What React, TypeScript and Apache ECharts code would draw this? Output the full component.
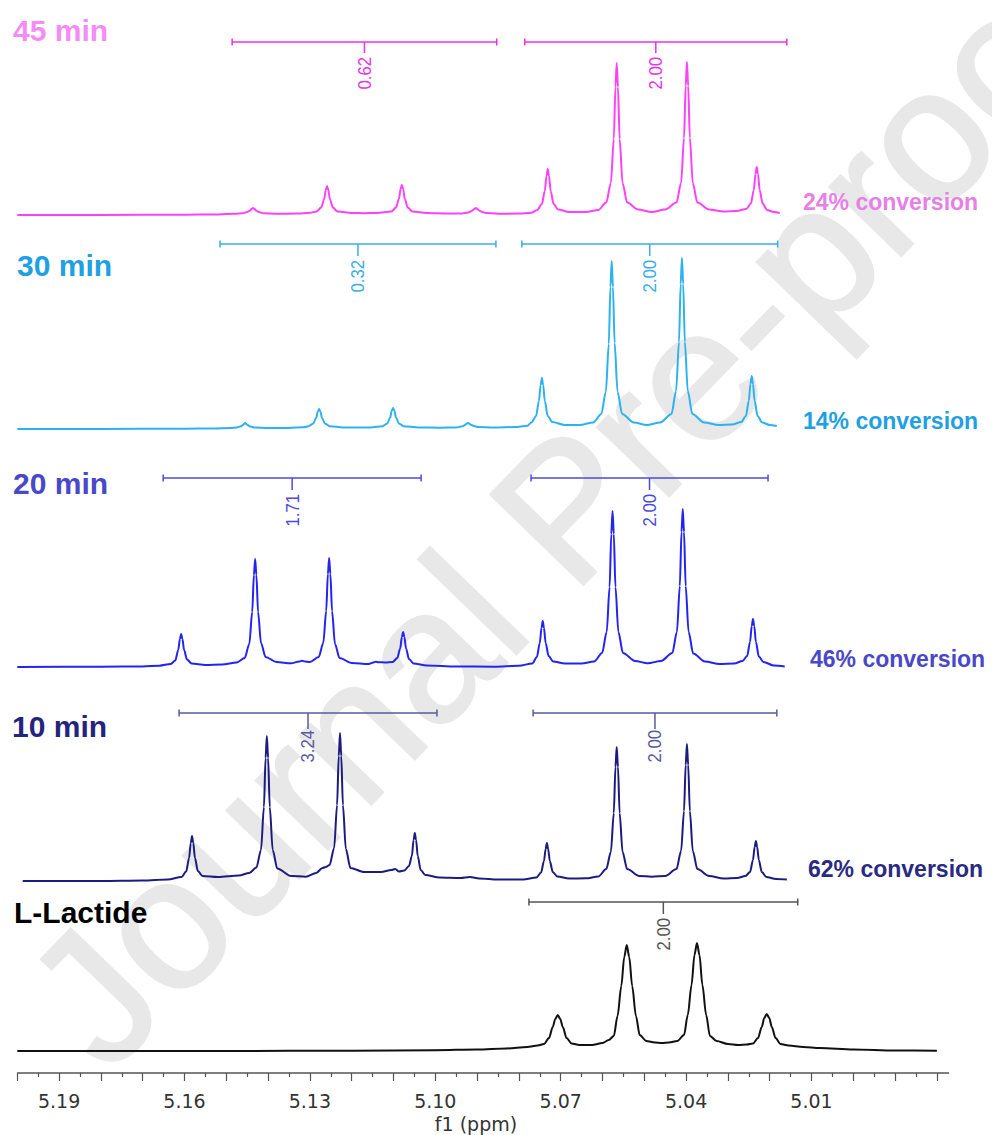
import React, { useEffect, useRef } from 'react';
import * as echarts from 'echarts';

// x axis tick labels (ppm)
const tickLabels = ['5.19', '5.16', '5.13', '5.10', '5.07', '5.04', '5.01'];

// Spectra: [ppm, intensity (a.u.)]
const S45: number[][] = [
  [5.2, 0], [5.18, 0], [5.16, 0.3], [5.152, 0.6], [5.148, 1.2],
  [5.1461, 1.8], [5.145, 3], [5.1443, 4.5], [5.1439, 6.2], [5.1436, 7], [5.1433, 6.2], [5.1429, 4.5], [5.1422, 3], [5.1411, 1.8],
  [5.138, 1.2], [5.133, 1.4], [5.13, 2.2],
  [5.1284, 3.5], [5.1273, 7.5], [5.1266, 15.5], [5.1262, 25], [5.1259, 29], [5.1256, 25], [5.1252, 15.5], [5.1245, 7.5], [5.1234, 3.5],
  [5.12, 2], [5.117, 1.8], [5.114, 2], [5.1105, 3.5],
  [5.1094, 7.5], [5.1087, 16], [5.1083, 26], [5.108, 30], [5.1077, 26], [5.1073, 16], [5.1066, 7.5], [5.1055, 3.5],
  [5.102, 2], [5.097, 1.5], [5.0935, 1.6],
  [5.0925, 2.2], [5.0917, 3.2], [5.091, 4.8], [5.0906, 6.3], [5.0903, 7], [5.09, 6.3], [5.0896, 4.8], [5.0889, 3.2], [5.0879, 2],
  [5.085, 1.3], [5.08, 1.4], [5.077, 2.2],
  [5.0756, 5], [5.0745, 11], [5.0738, 24], [5.0734, 39], [5.0731, 46], [5.0728, 39], [5.0724, 24], [5.0717, 11], [5.0706, 5.5],
  [5.068, 3], [5.064, 3], [5.061, 5],
  [5.0591, 12.5], [5.058, 32], [5.0573, 76], [5.0569, 128], [5.0566, 152], [5.0563, 128], [5.0559, 76], [5.0552, 32], [5.0541, 12.5],
  [5.0515, 5.5], [5.0482, 3], [5.045, 5.5],
  [5.0423, 12.5], [5.0412, 32], [5.0405, 77], [5.0401, 129], [5.0398, 153], [5.0395, 129], [5.0391, 77], [5.0384, 32], [5.0373, 12.5],
  [5.0345, 5.5], [5.031, 3.5], [5.028, 4],
  [5.0256, 6], [5.0245, 11.5], [5.0238, 25], [5.0234, 41], [5.0231, 48], [5.0228, 41], [5.0224, 25], [5.0217, 11.5], [5.0206, 5],
  [5.019, 3], [5.0176, 2],
];

const S30: number[][] = [
  [5.2, 0], [5.18, 0], [5.16, 0.3], [5.153, 0.6], [5.149, 1],
  [5.1475, 1.6], [5.1466, 2.6], [5.146, 4], [5.1457, 5.3], [5.1455, 6], [5.1453, 5.3], [5.1449, 4], [5.1443, 2.6], [5.1432, 1.5],
  [5.14, 1], [5.135, 1.1], [5.1315, 1.8],
  [5.1303, 2.8], [5.1292, 5.5], [5.1285, 11], [5.1281, 17.5], [5.1278, 20], [5.1275, 17.5], [5.1271, 11], [5.1264, 5.5], [5.1253, 2.8],
  [5.122, 1.6], [5.119, 1.4], [5.1155, 1.6], [5.1126, 2.8],
  [5.1115, 5.5], [5.1108, 11.5], [5.1104, 18.5], [5.1101, 21], [5.1098, 18.5], [5.1094, 11.5], [5.1087, 5.5], [5.1076, 2.8],
  [5.104, 1.5], [5.099, 1.3], [5.095, 1.5],
  [5.094, 2.2], [5.0933, 3], [5.0928, 4.3], [5.0925, 5.4], [5.0922, 6], [5.0919, 5.4], [5.0915, 4.3], [5.0908, 3], [5.0898, 2],
  [5.086, 1.5], [5.081, 2], [5.078, 3.2],
  [5.077, 6.5], [5.0759, 13], [5.0752, 28], [5.0748, 44], [5.0745, 51], [5.0742, 44], [5.0738, 28], [5.0731, 13], [5.072, 7],
  [5.069, 4], [5.0655, 4], [5.0622, 6.5],
  [5.0603, 15], [5.0592, 37], [5.0585, 85], [5.0581, 142], [5.0578, 168], [5.0575, 142], [5.0571, 86], [5.0564, 37], [5.0553, 15],
  [5.0525, 6.5], [5.0494, 4], [5.0462, 6.5],
  [5.0435, 15], [5.0424, 38], [5.0417, 87], [5.0413, 145], [5.041, 171], [5.0407, 145], [5.0403, 87], [5.0396, 38], [5.0385, 15],
  [5.0357, 6.5], [5.0322, 4], [5.029, 4.5],
  [5.0268, 7], [5.0257, 13], [5.025, 28], [5.0246, 45], [5.0243, 53], [5.024, 45], [5.0236, 28], [5.0229, 13], [5.0218, 6.5],
  [5.02, 4], [5.0183, 3],
];

const S20: number[][] = [
  [5.2, 0], [5.18, 0.2], [5.17, 0.6], [5.166, 1.3], [5.1633, 3],
  [5.1622, 6.5], [5.1615, 17], [5.1611, 28], [5.1608, 33], [5.1605, 28], [5.1601, 17], [5.1594, 7.5], [5.1583, 3.5],
  [5.155, 2], [5.151, 2.5], [5.1475, 4.5], [5.1456, 9],
  [5.1445, 23], [5.1438, 55], [5.1434, 92], [5.1431, 108], [5.1428, 92], [5.1424, 55], [5.1417, 24], [5.1406, 10],
  [5.138, 5], [5.1345, 3.7], [5.1325, 5.5], [5.1319, 6.3], [5.1312, 5.5], [5.13, 5], [5.1279, 10],
  [5.1268, 24], [5.1261, 56], [5.1257, 93], [5.1254, 109], [5.1251, 93], [5.1247, 56], [5.124, 23], [5.1229, 9],
  [5.12, 4], [5.116, 3], [5.1146, 4.8], [5.1142, 5.3], [5.1136, 4.8], [5.112, 4.5], [5.1102, 5],
  [5.1091, 9], [5.1084, 18.5], [5.108, 30], [5.1077, 35], [5.1074, 30], [5.107, 18.5], [5.1063, 8], [5.1052, 3.5],
  [5.102, 1.5], [5.095, 0.5], [5.086, 0.3], [5.08, 1.2], [5.0768, 3.5],
  [5.0757, 10], [5.075, 24], [5.0746, 39], [5.0743, 46], [5.074, 39], [5.0736, 24], [5.0729, 11], [5.0718, 5.5],
  [5.069, 3.5], [5.065, 3.5], [5.062, 5.5], [5.0601, 14],
  [5.059, 35], [5.0583, 80], [5.0579, 133], [5.0576, 156], [5.0573, 133], [5.0569, 80], [5.0562, 35], [5.0551, 14],
  [5.0522, 6], [5.0492, 3.7], [5.046, 6], [5.0433, 14],
  [5.0422, 35], [5.0415, 81], [5.0411, 135], [5.0408, 158], [5.0405, 135], [5.0401, 81], [5.0394, 35], [5.0383, 13.5],
  [5.0355, 5.5], [5.032, 3], [5.0285, 3.5], [5.0265, 6],
  [5.0254, 11], [5.0247, 25], [5.0243, 41], [5.024, 48], [5.0237, 41], [5.0233, 25], [5.0226, 10.5], [5.0215, 5],
  [5.019, 1.5], [5.0164, 0.5],
];

const S10: number[][] = [
  [5.1987, 0], [5.18, 0], [5.17, 0.5], [5.164, 1.5], [5.1607, 4],
  [5.1596, 9.5], [5.1589, 23], [5.1585, 38], [5.1582, 45], [5.1579, 38], [5.1575, 23], [5.1568, 10], [5.1557, 5],
  [5.152, 4], [5.147, 5.5], [5.1445, 8], [5.1428, 13.5],
  [5.1417, 31], [5.141, 74], [5.1406, 123], [5.1403, 145], [5.14, 123], [5.1396, 74], [5.1389, 31], [5.1378, 12.5],
  [5.1345, 5], [5.131, 4.3], [5.1285, 8], [5.127, 13], [5.1262, 14], [5.1253, 16],
  [5.1242, 33], [5.1235, 76], [5.1231, 125], [5.1228, 148], [5.1225, 125], [5.1221, 76], [5.1214, 32], [5.1203, 13],
  [5.117, 9], [5.113, 9], [5.1105, 11], [5.1096, 12], [5.1087, 9.5], [5.1074, 10.5],
  [5.1063, 15], [5.1056, 25], [5.1052, 41], [5.1049, 48], [5.1046, 41], [5.1042, 25], [5.1035, 11], [5.1024, 6],
  [5.099, 3.5], [5.094, 3], [5.0917, 4], [5.0895, 2.5], [5.085, 1.5], [5.079, 1.5], [5.0758, 3.5],
  [5.0747, 8.5], [5.074, 20], [5.0736, 32], [5.0733, 38], [5.073, 32], [5.0726, 20], [5.0719, 9], [5.0708, 4.5],
  [5.068, 2.5], [5.064, 2.7], [5.061, 4.5], [5.0591, 12],
  [5.058, 29], [5.0573, 68], [5.0569, 114], [5.0566, 134], [5.0563, 114], [5.0559, 68], [5.0552, 29], [5.0541, 12],
  [5.0512, 5], [5.0482, 4.3], [5.045, 5], [5.0423, 12],
  [5.0412, 30], [5.0405, 70], [5.0401, 116], [5.0398, 137], [5.0395, 116], [5.0391, 70], [5.0384, 30], [5.0373, 12],
  [5.0345, 5], [5.031, 2.5], [5.0278, 3], [5.0258, 5],
  [5.0247, 9], [5.024, 21], [5.0236, 34], [5.0233, 40], [5.023, 34], [5.0226, 21], [5.0219, 9], [5.0208, 4],
  [5.0185, 2], [5.0159, 1.5],
];

const SL: number[][] = [
  [5.2, 0], [5.15, 0], [5.12, 0.3], [5.1, 0.8], [5.09, 1.5], [5.083, 2.5], [5.078, 4], [5.0755, 5.5],
  [5.074, 7], [5.0728, 13], [5.0719, 24], [5.0713, 32], [5.0707, 36], [5.0701, 32], [5.0695, 24], [5.0686, 13], [5.0674, 7.5],
  [5.0655, 6], [5.0625, 6], [5.06, 8], [5.0585, 11],
  [5.0573, 15], [5.0564, 35], [5.0555, 65], [5.0548, 94], [5.0542, 106], [5.0536, 94], [5.0529, 65], [5.052, 35], [5.0511, 16],
  [5.0495, 10], [5.0475, 8.5], [5.0458, 8], [5.0441, 8.5], [5.0421, 10],
  [5.0405, 16], [5.0396, 36], [5.0387, 66], [5.038, 96], [5.0374, 108], [5.0368, 96], [5.0361, 66], [5.0352, 36], [5.0343, 15],
  [5.0327, 10], [5.03, 7], [5.0275, 6], [5.0255, 6.5],
  [5.024, 7.5], [5.0228, 13], [5.0219, 24], [5.0213, 33], [5.0207, 37], [5.0201, 33], [5.0195, 24], [5.0186, 13], [5.0174, 7],
  [5.0155, 5.5], [5.012, 4], [5.008, 3], [5.0, 1.5], [4.99, 0.5], [4.98, 0.3],
];

// Integrals: [from ppm, to ppm, value]
const INT45: [number, number, string][] = [[5.1486, 5.0853, '0.62'], [5.0786, 5.0159, '2.00']];
const INT30: [number, number, string][] = [[5.1515, 5.0855, '0.32'], [5.0793, 5.0181, '2.00']];
const INT20: [number, number, string][] = [[5.1651, 5.1034, '1.71'], [5.0771, 5.0204, '2.00']];
const INT10: [number, number, string][] = [[5.1613, 5.0996, '3.24'], [5.0766, 5.0183, '2.00']];
const INTL: [number, number, string][] = [[5.0776, 5.0133, '2.00']];

const titles = ['45 min', '30 min', '20 min', '10 min', 'L-Lactide'];
const conversions = ['24% conversion', '14% conversion', '46% conversion', '62% conversion', ''];

const X_MIN = 4.98;
const X_MAX = 5.2;
const PX_PER_PPM = 4180;
const GRID_LEFT = 17.3;
const GRID_RIGHT = 992 - (GRID_LEFT + (X_MAX - X_MIN) * PX_PER_PPM);

const panels = [
  { data: S45, ints: INT45, line: '#ff40ff', brk: '#e833e8', title: '#f58cf5', conv: '#e67fe6', top: 0, base: 215, below: 0, level: 173, tick: 11, gap: 4, titleX: 13, titleY: 30, convX: 803, convY: 202 },
  { data: S30, ints: INT30, line: '#2cb2f0', brk: '#3aaee8', title: '#1ea0e2', conv: '#1ea0e2', top: 230, base: 429, below: 0, level: 185, tick: 12, gap: 4, titleX: 17, titleY: 265, convX: 803, convY: 421 },
  { data: S20, ints: INT20, line: '#2323f2', brk: '#4a4ae0', title: '#4848c8', conv: '#4848c8', top: 450, base: 667, below: 0, level: 189, tick: 12, gap: 4, titleX: 13, titleY: 483, convX: 810, convY: 659 },
  { data: S10, ints: INT10, line: '#1c1c80', brk: '#5a5aa0', title: '#24247e', conv: '#2a2a82', top: 680, base: 881, below: 0, level: 168, tick: 16, gap: 1, titleX: 12, titleY: 726, convX: 808, convY: 869 },
  { data: SL, ints: INTL, line: '#111111', brk: '#555555', title: '#000000', conv: '#000000', top: 880, base: 1051, below: 22, level: 149, tick: 12, gap: 4, titleX: 14, titleY: 912, convX: 808, convY: 1000 },
];

function buildOption() {
  const grid: any[] = [];
  const xAxis: any[] = [];
  const yAxis: any[] = [];
  const series: any[] = [];
  const graphic: any[] = [];

  graphic.push({
    type: 'text', x: 566, y: 509, rotation: (46 * Math.PI) / 180, z: -10, silent: true,
    style: {
      text: 'Journal Pre-proof', font: '188px "Liberation Sans"', fill: '#e8e8e8',
      stroke: '#e8e8e8', lineWidth: 2.5, align: 'center', verticalAlign: 'middle',
    },
  });

  panels.forEach((p, i) => {
    const h = p.base - p.top;
    grid.push({ left: GRID_LEFT, right: GRID_RIGHT, top: p.top, height: h + p.below });
    const last = i === panels.length - 1;
    xAxis.push({
      type: 'value', gridIndex: i, min: X_MIN, max: X_MAX, inverse: true, show: last,
      interval: 0.01,
      axisLine: { show: false, onZero: false },
      axisTick: { show: true, length: 8, lineStyle: { color: '#555', width: 1.2 } },
      minorTick: { show: true, splitNumber: 2, length: 4, lineStyle: { color: '#555', width: 1.2 } },
      splitLine: { show: false }, minorSplitLine: { show: false },
      axisLabel: {
        margin: 18, color: '#333', fontFamily: 'DejaVu Sans', fontSize: 19,
        formatter: (v: number) => { const s = v.toFixed(2); return tickLabels.includes(s) ? s : ''; },
      },
    });
    yAxis.push({ type: 'value', gridIndex: i, min: -p.below, max: h, show: false, splitLine: { show: false } });
    series.push({
      type: 'line', xAxisIndex: i, yAxisIndex: i, data: p.data, showSymbol: false, smooth: 0.3,
      smoothMonotone: 'x', lineStyle: { color: p.line, width: 2 }, itemStyle: { color: p.line },
      silent: true, z: 3,
    });
    const ints = p.ints;
    series.push({
      type: 'custom', xAxisIndex: i, yAxisIndex: i, silent: true, z: 4,
      data: ints.map((d) => [d[0], d[1], 0]),
      encode: { x: [0, 1], y: 2 },
      renderItem: (params: any, api: any) => {
        const a = api.coord([api.value(0), 0]);
        const b = api.coord([api.value(1), 0]);
        const y = api.coord([X_MIN, p.level])[1];
        const xm = (a[0] + b[0]) / 2;
        const st = { stroke: p.brk, lineWidth: 1.5 };
        return {
          type: 'group',
          children: [
            { type: 'line', shape: { x1: a[0], y1: y, x2: b[0], y2: y }, style: st },
            { type: 'line', shape: { x1: a[0], y1: y - 3.5, x2: a[0], y2: y + 3.5 }, style: st },
            { type: 'line', shape: { x1: b[0], y1: y - 3.5, x2: b[0], y2: y + 3.5 }, style: st },
            { type: 'line', shape: { x1: xm, y1: y, x2: xm, y2: y + p.tick }, style: st },
            {
              type: 'text', x: xm, y: y + p.tick + p.gap, rotation: Math.PI / 2, scaleX: 0.88,
              style: { text: ints[params.dataIndex][2], font: '19px "Liberation Sans"', fill: p.brk, align: 'right', verticalAlign: 'middle' },
            },
          ],
        };
      },
    });
    graphic.push({
      type: 'text', x: p.titleX, y: p.titleY, z: 100,
      style: { text: titles[i], font: 'bold 30px "Liberation Sans"', fill: p.title, verticalAlign: 'middle' },
    });
    if (conversions[i]) {
      graphic.push({
        type: 'text', x: p.convX, y: p.convY, z: 100,
        style: { text: conversions[i], font: 'bold 23px "Liberation Sans"', fill: p.conv, verticalAlign: 'middle' },
      });
    }
  });

  graphic.push({
    type: 'line', z: 100, shape: { x1: 17, y1: 1073, x2: 949, y2: 1073 },
    style: { stroke: '#555', lineWidth: 1.5 },
  });
  graphic.push({
    type: 'text', x: 476, y: 1124, z: 100,
    style: { text: 'f1 (ppm)', font: '19px "DejaVu Sans"', fill: '#333', align: 'center', verticalAlign: 'middle' },
  });

  return { animation: false, backgroundColor: '#fff', grid, xAxis, yAxis, series, graphic };
}

export default function App() {
  const ref = useRef<HTMLDivElement>(null);
  useEffect(() => {
    if (!ref.current) return;
    const chart = echarts.init(ref.current, undefined, { renderer: 'svg' });
    chart.setOption(buildOption() as any);
    return () => chart.dispose();
  }, []);
  return <div ref={ref} style={{ position: 'absolute', left: 0, top: 0, width: 992, height: 1135, background: '#fff' }} />;
}
